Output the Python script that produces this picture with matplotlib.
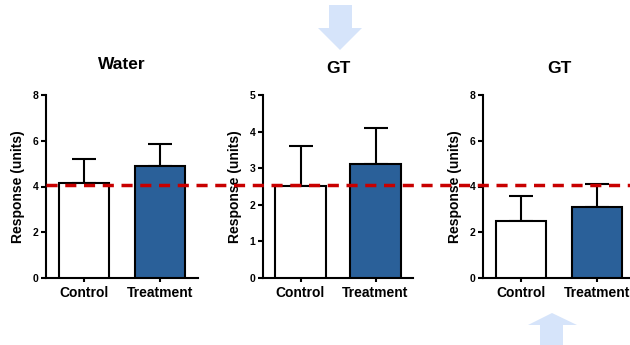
import numpy as np
import matplotlib.pyplot as plt
from matplotlib.lines import Line2D
from matplotlib.patches import Polygon

plt.rcParams['font.family'] = ['Liberation Sans', 'DejaVu Sans']
plt.rcParams['font.weight'] = 'bold'

groups = ['Control', 'Treatment']
titles = ['Water', 'GT', 'GT']
means = [[4.15, 4.9], [2.5, 3.12], [2.5, 3.12]]
errs = [[1.05, 0.96], [1.1, 0.98], [1.1, 0.98]]
ymax = [8, 5, 8]
ystep = [2, 1, 2]
ref_level = 4.05  # dashed reference, in Water panel units

blue = '#2a6099'
red = '#c80000'
arrow_col = '#d6e4fa'

fig = plt.figure(figsize=(6.3, 3.45), dpi=100)

# axes boxes in pixels: left, width
W, H = 630, 345
boxes = [(46, 152), (263, 150), (483, 152)]
bottom_px, top_px = 278, 95
title_pad = [18.5, 15.5, 15.5]

axes = []
for i in range(3):
    l, w = boxes[i]
    ax = fig.add_axes([l / W, (H - bottom_px) / H, w / W, (bottom_px - top_px) / H])
    x = np.arange(len(groups))
    ax.bar(x, means[i], width=0.67, color=['white', blue], edgecolor='black',
           linewidth=1.5, zorder=3)
    ax.errorbar(x, means[i], yerr=[[0, 0], errs[i]], fmt='none', ecolor='black',
                elinewidth=1.5, capsize=8.5, capthick=1.5, zorder=2)
    ax.set_xlim(-0.5, 1.5)
    ax.set_ylim(0, ymax[i])
    ax.set_yticks(np.arange(0, ymax[i] + 0.1, ystep[i]))
    ax.set_xticks(x)
    ax.set_xticklabels(groups, fontsize=10, fontweight='bold')
    for lab in ax.get_yticklabels():
        lab.set_fontsize(7.5)
        lab.set_fontweight('bold')
    ax.spines['top'].set_visible(False)
    ax.spines['right'].set_visible(False)
    ax.spines['left'].set_linewidth(1.5)
    ax.spines['bottom'].set_linewidth(1.5)
    ax.tick_params(axis='y', length=3.6, width=1.5, pad=1.8)
    ax.tick_params(axis='x', length=3.2, width=1.5, pad=2.5)
    ax.set_ylabel('Response (units)', fontsize=10, fontweight='bold')
    ax.yaxis.set_label_coords(-0.14, 0.5)
    ax.set_title(titles[i], fontsize=12.5, fontweight='bold', pad=title_pad[i])
    axes.append(ax)

# reference dashed line across the figure
fig.canvas.draw()
px = axes[0].transData.transform((-0.5, ref_level))
fy = fig.transFigure.inverted().transform(px)
fig.add_artist(Line2D([fy[0], 1.0], [fy[1], fy[1]], transform=fig.transFigure,
                      color=red, linewidth=2.5, linestyle=(0, (3.2, 2.2)), zorder=5))

# light blue arrows
def px2fig(pts):
    return [(x / W, (H - y) / H) for x, y in pts]

down = [(329, 5), (352, 5), (352, 28), (362, 28), (340, 50), (318, 28), (329, 28)]
up = [(540, 345), (563, 345), (563, 325), (577, 325), (552, 313), (528, 325), (540, 325)]
for shape in (down, up):
    fig.add_artist(Polygon(px2fig(shape), closed=True, transform=fig.transFigure,
                           facecolor=arrow_col, edgecolor='none', zorder=0))

fig.savefig('out.png', dpi=100)
